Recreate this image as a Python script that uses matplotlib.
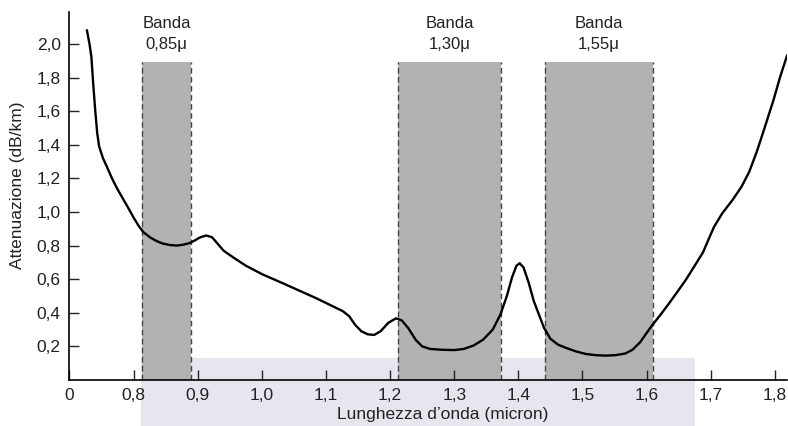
import matplotlib.pyplot as plt
from matplotlib.patches import Rectangle

plt.rcParams['font.family'] = ['Liberation Sans', 'DejaVu Sans']

# Attenuation curve (micron, dB/km)
wavelength = [0.727, 0.731, 0.734, 0.737, 0.740, 0.743, 0.746, 0.752, 0.758, 0.766,
              0.774, 0.783, 0.792, 0.800, 0.808, 0.815, 0.825, 0.835, 0.845, 0.857,
              0.867, 0.877, 0.887, 0.895, 0.903, 0.913, 0.922, 0.930, 0.940, 0.955,
              0.975, 1.000, 1.033, 1.085, 1.126, 1.136, 1.145, 1.155, 1.165, 1.175,
              1.185, 1.197, 1.209, 1.218, 1.228, 1.240, 1.250, 1.262, 1.280, 1.300,
              1.315, 1.330, 1.345, 1.360, 1.372, 1.382, 1.390, 1.397, 1.402, 1.408,
              1.416, 1.424, 1.432, 1.440, 1.450, 1.462, 1.475, 1.490, 1.505, 1.520,
              1.536, 1.552, 1.567, 1.578, 1.590, 1.600, 1.609, 1.622, 1.635, 1.648,
              1.661, 1.675, 1.688, 1.697, 1.705, 1.718, 1.734, 1.748, 1.760, 1.772,
              1.783, 1.798, 1.808, 1.819]
attenuation = [2.08, 2.00, 1.92, 1.75, 1.60, 1.47, 1.39, 1.32, 1.27, 1.20,
               1.14, 1.08, 1.02, 0.965, 0.915, 0.880, 0.850, 0.828, 0.812, 0.803,
               0.800, 0.805, 0.815, 0.830, 0.848, 0.860, 0.850, 0.815, 0.770, 0.730,
               0.680, 0.630, 0.575, 0.486, 0.410, 0.380, 0.330, 0.290, 0.272, 0.268,
               0.290, 0.340, 0.367, 0.355, 0.310, 0.238, 0.200, 0.185, 0.180, 0.178,
               0.185, 0.205, 0.240, 0.300, 0.390, 0.500, 0.610, 0.680, 0.695, 0.670,
               0.580, 0.470, 0.390, 0.310, 0.245, 0.210, 0.190, 0.170, 0.155, 0.148,
               0.145, 0.148, 0.158, 0.180, 0.225, 0.280, 0.327, 0.390, 0.456, 0.525,
               0.595, 0.680, 0.760, 0.840, 0.910, 0.992, 1.071, 1.150, 1.238, 1.360,
               1.488, 1.667, 1.800, 1.930]

# Transmission bands
band_start = [0.8125, 1.2125, 1.442]
band_end = [0.890, 1.373, 1.6095]
band_top = 1.89
band_labels = ["Banda\n0,85\u03bc", "Banda\n1,30\u03bc", "Banda\n1,55\u03bc"]

x_ticks = [0.8, 0.9, 1.0, 1.1, 1.2, 1.3, 1.4, 1.5, 1.6, 1.7, 1.8]
y_ticks = [0.2, 0.4, 0.6, 0.8, 1.0, 1.2, 1.4, 1.6, 1.8, 2.0]
x_origin = 0.699  # broken axis: "0" sits at the origin

fig = plt.figure(figsize=(7.88, 4.26), dpi=100)
ax = fig.add_axes([69 / 788, 46 / 426, 718 / 788, 368 / 426])
ax.patch.set_alpha(0)

# light band behind the axis label
fig.patches.append(Rectangle((141 / 788, 0), 554 / 788, 68 / 426,
                             transform=fig.transFigure, facecolor='#e6e6ef',
                             edgecolor='none', zorder=-1))

for x0, x1, lab in zip(band_start, band_end, band_labels):
    ax.fill_between([x0, x1], 0, band_top, color='#b2b2b2', lw=0, zorder=1)
    ax.plot([x0, x0], [0, band_top], ls=(0, (4, 2.5)), color='#444444', lw=1, zorder=2)
    ax.plot([x1, x1], [0, band_top], ls=(0, (4, 2.5)), color='#444444', lw=1, zorder=2)
    ax.text((x0 + x1) / 2, 2.06, lab, ha='center', va='center', fontsize=12,
            color='#222222', linespacing=1.45)

ax.plot(wavelength, attenuation, color='black', lw=1.7, zorder=3)

ax.set_xlim(x_origin, 1.819)
ax.set_ylim(0, 2.19)
ax.set_xticks([x_origin] + x_ticks)
ax.set_xticklabels(['0'] + [f"{v:.1f}".replace('.', ',') for v in x_ticks])
ax.set_yticks(y_ticks)
ax.set_yticklabels([f"{v:.1f}".replace('.', ',') for v in y_ticks])
ax.tick_params(direction='in', length=7, width=1, labelsize=12.5, colors='#222222', pad=6)
ax.tick_params(axis='x', pad=6)

for s in ['top', 'right']:
    ax.spines[s].set_visible(False)
for s in ['left', 'bottom']:
    ax.spines[s].set_linewidth(1.2)

ax.set_xlabel("Lunghezza d\u2019onda (micron)", fontsize=12.5, color='#222222')
ax.xaxis.set_label_coords(0.52, -0.073)
ax.set_ylabel("Attenuazione (dB/km)", fontsize=12.5, color='#222222')
ax.yaxis.set_label_coords(-0.061, 0.53)

fig.savefig('out.png', dpi=100)
